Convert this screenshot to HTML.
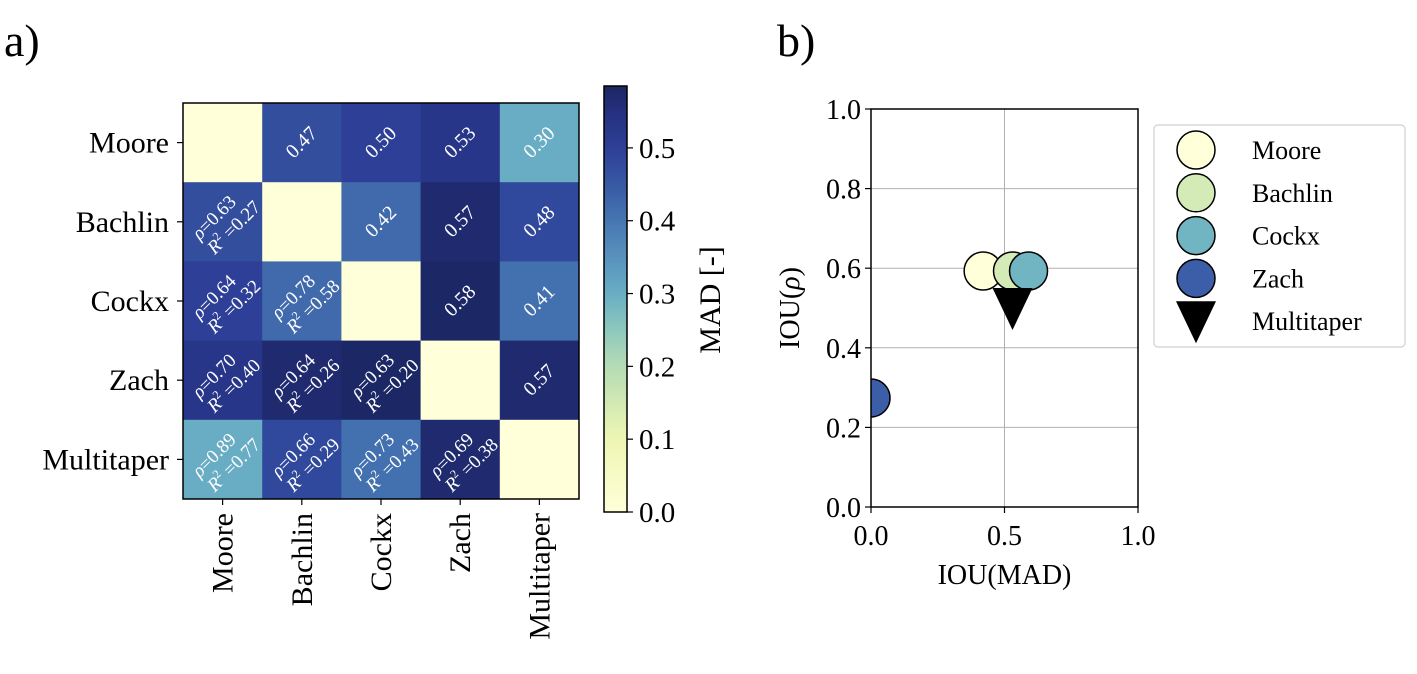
<!DOCTYPE html>
<html><head><meta charset="utf-8"><style>
body{margin:0;background:#fff;}
svg{display:block;font-family:"Liberation Serif","DejaVu Serif",serif;}
</style></head><body>
<svg id="fig" width="1417" height="674" viewBox="0 0 1417 674" xmlns="http://www.w3.org/2000/svg">
<text x="4" y="56" font-size="46">a)</text>
<text x="777" y="56" font-size="46">b)</text>
<g id="heat"></g>
<g id="cbar"></g>
<g id="scatter"></g>
<g id="legend"></g>
</svg>
<script>
const methods = ["Moore","Bachlin","Cockx","Zach","Multitaper"];
const madUpper = [[null,0.47,0.50,0.53,0.30],[null,null,0.42,0.57,0.48],[null,null,null,0.58,0.41],[null,null,null,null,0.57],[null,null,null,null,null]];
const rhoLower = [[null,null,null,null,null],[0.63,null,null,null,null],[0.64,0.78,null,null,null],[0.70,0.64,0.63,null,null],[0.89,0.66,0.73,0.69,null]];
const r2Lower = [[null,null,null,null,null],[0.27,null,null,null,null],[0.32,0.58,null,null,null],[0.40,0.26,0.20,null,null],[0.77,0.29,0.43,0.38,null]];
const cbarTicks = [0.0,0.1,0.2,0.3,0.4,0.5];
const iouMAD = [0.42,0.53,0.59,0.0,0.53];
const iouRho = [0.593,0.593,0.593,0.274,0.50];
const markerColors = ["#ffffd9","#d4ebb7","#72b5c2","#3c5ea8","#000000"];
const xTicks = [0.0,0.5,1.0];
const yTicks = [0.0,0.2,0.4,0.6,0.8,1.0];

const NS="http://www.w3.org/2000/svg";
function mk(tag,attrs,parent,txt){const e=document.createElementNS(NS,tag);for(const k in attrs)e.setAttribute(k,attrs[k]);if(txt!==undefined)e.textContent=txt;parent.appendChild(e);return e;}
const VMAX=0.585;
const cv=[0,0.1,0.2,0.25,0.3,0.35,0.4,0.45,0.5,0.55,0.585];
const cc=["#ffffd9","#eef6b2","#b5dcb5","#8ec8bc","#68adc4","#5892bd","#4676b2","#3858a4","#2d3f96","#253080","#1b2760"];
function hx(h){return [1,3,5].map(i=>parseInt(h.substr(i,2),16));}
function cmap(v){v=Math.max(0,Math.min(VMAX,v));let i=0;while(i<cv.length-2&&v>cv[i+1])i++;const f=(v-cv[i])/(cv[i+1]-cv[i]);const a=hx(cc[i]),b=hx(cc[i+1]);return "rgb("+a.map((c,k)=>Math.round(c+(b[k]-c)*f)).join(",")+")";}

// heatmap
const H=document.getElementById('heat');
const hx0=183,hy0=103,cs=79.2;
function mad(i,j){if(i===j)return 0;return i<j?madUpper[i][j]:madUpper[j][i];}
for(let i=0;i<5;i++)for(let j=0;j<5;j++){
 const r=mk('rect',{x:hx0+j*cs,y:hy0+i*cs,width:cs+0.5,height:cs+0.5,fill:cmap(mad(i,j))},H);
 
 
 const cx=hx0+(j+0.5)*cs, cy=hy0+(i+0.5)*cs;
 if(i<j){
  const t=mk('text',{x:cx,y:cy+6,'font-size':20,fill:'#fff','text-anchor':'middle',transform:`rotate(-45 ${cx} ${cy})`},H,madUpper[i][j].toFixed(2));
  
  
 } else if(i>j){
  const t=mk('text',{x:cx,y:cy,'font-size':19,fill:'#fff','text-anchor':'middle',transform:`rotate(-45 ${cx} ${cy})`},H);
  
  
  mk('tspan',{x:cx-3,dy:-3,'font-style':'italic'},t,'ρ');
  mk('tspan',{},t,'='+rhoLower[i][j].toFixed(2));
  mk('tspan',{x:cx+4,dy:21,'font-style':'italic'},t,'R');
  mk('tspan',{'font-size':12,dy:-8},t,'2');
  mk('tspan',{dy:8},t,' ='+r2Lower[i][j].toFixed(2));
 }
}
mk('rect',{x:hx0,y:hy0,width:cs*5,height:cs*5,fill:'none',stroke:'#000','stroke-width':1.5},H);
methods.forEach((m,k)=>{
 const y=hy0+(k+0.5)*cs;
 mk('line',{x1:hx0-6,x2:hx0,y1:y,y2:y,stroke:'#000','stroke-width':1.2},H);
 const t=mk('text',{x:hx0-14,y:y+10,'font-size':30,'text-anchor':'end'},H,m);
 
 
 const x=hx0+(k+0.5)*cs;
 mk('line',{x1:x,x2:x,y1:hy0+5*cs,y2:hy0+5*cs+6,stroke:'#000','stroke-width':1.2},H);
 const t2=mk('text',{x:0,y:0,'font-size':30,'text-anchor':'end',transform:`translate(${x+10} ${hy0+5*cs+14}) rotate(-90)`},H,m);
 
 
});

// colorbar
const C=document.getElementById('cbar');
const cbx=604,cbw=23,cbTop=86,cbBot=512,per=(cbBot-cbTop)/VMAX;
const defs=mk('defs',{},C);const g=mk('linearGradient',{id:'cg',x1:0,y1:1,x2:0,y2:0},defs);
for(let k=0;k<=30;k++){mk('stop',{offset:k/30,'stop-color':cmap(VMAX*k/30)},g);}
mk('rect',{x:cbx,y:cbTop,width:cbw,height:cbBot-cbTop,fill:'url(#cg)',stroke:'#000','stroke-width':1.5},C);
cbarTicks.forEach(v=>{const y=cbBot-v*per;
 mk('line',{x1:cbx+cbw,x2:cbx+cbw+6,y1:y,y2:y,stroke:'#000','stroke-width':1.2},C);
 const t=mk('text',{x:cbx+cbw+12,y:y+10,'font-size':29},C,v.toFixed(1));
 
 
});
const cl=mk('text',{x:0,y:0,'font-size':30,'text-anchor':'middle',transform:'translate(720 300) rotate(-90)'},C,'MAD [-]');



// scatter
const S=document.getElementById('scatter');
const sx0=871,sx1=1138,sy0=507,sy1=109;
const X=v=>sx0+v*(sx1-sx0), Y=v=>sy0-v*(sy0-sy1);
xTicks.forEach(v=>{mk('line',{x1:X(v),x2:X(v),y1:sy0,y2:sy1,stroke:'#b0b0b0','stroke-width':1},S);
 mk('line',{x1:X(v),x2:X(v),y1:sy0,y2:sy0+6,stroke:'#000','stroke-width':1.2},S);
 const t=mk('text',{x:X(v),y:sy0+38,'font-size':28,'text-anchor':'middle'},S,v.toFixed(1));
 
 });
yTicks.forEach(v=>{mk('line',{x1:sx0,x2:sx1,y1:Y(v),y2:Y(v),stroke:'#b0b0b0','stroke-width':1},S);
 mk('line',{x1:sx0-6,x2:sx0,y1:Y(v),y2:Y(v),stroke:'#000','stroke-width':1.2},S);
 const t=mk('text',{x:sx0-10,y:Y(v)+10,'font-size':28,'text-anchor':'end'},S,v.toFixed(1));
 
 });
const clip=mk('clipPath',{id:'sclip'},mk('defs',{},S));mk('rect',{x:sx0,y:sy1,width:sx1-sx0,height:sy0-sy1},clip);
const pts=mk('g',{'clip-path':'url(#sclip)'},S);
const order=[3,0,1,2,4];
order.forEach(k=>{
 const cx=X(iouMAD[k]),cy=Y(iouRho[k]);let m;
 if(k===4){m=mk('path',{d:`M${cx-20} ${cy-20} L${cx+20} ${cy-20} L${cx} ${cy+22} Z`,fill:'#000'},pts);}
 else m=mk('circle',{cx:cx,cy:cy,r:19,fill:markerColors[k],stroke:'#000','stroke-width':1.5},pts);
 
 
});
mk('path',{d:`M${sx0} ${sy1} L${sx1} ${sy1} L${sx1} ${sy0} L${sx0} ${sy0} Z`,fill:'none',stroke:'#000','stroke-width':1.5},S);
const xl=mk('text',{x:(sx0+sx1)/2,y:584,'font-size':28,'text-anchor':'middle'},S,'IOU(MAD)');

const yl=mk('text',{x:0,y:0,'font-size':28,'text-anchor':'middle',transform:'translate(799 308) rotate(-90)'},S);

mk('tspan',{},yl,'IOU(');mk('tspan',{'font-style':'italic'},yl,'ρ');mk('tspan',{},yl,')');

// legend
const L=document.getElementById('legend');
mk('rect',{x:1154,y:125,width:251,height:222,rx:4,fill:'#fff',stroke:'#d0d0d0','stroke-width':1.2},L);
methods.forEach((m,k)=>{const y=150+k*42.8,cx=1196;let e;
 if(k===4)e=mk('path',{d:`M${cx-20} ${y-20} L${cx+20} ${y-20} L${cx} ${y+22} Z`,fill:'#000'},L);
 else e=mk('circle',{cx:cx,cy:y,r:19,fill:markerColors[k],stroke:'#000','stroke-width':1.5},L);
 
 const t=mk('text',{x:1252,y:y+9,'font-size':26},L,m);
 
});
</script>
</body></html>
